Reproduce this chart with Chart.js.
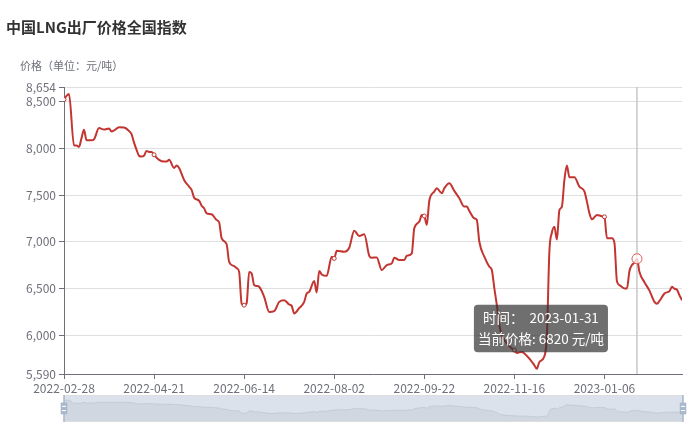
<!DOCTYPE html>
<html>
<head>
<meta charset="utf-8">
<script src="https://cdn.jsdelivr.net/npm/chart.js@4/dist/chart.umd.min.js"></script>
<style>
  body { margin: 0; background: #fff; }
  #wrap { position: relative; width: 691px; height: 446px; }
  #main { position: absolute; left: 0; top: 0; }
  #zoomBar { position: absolute; left: 54px; top: 394px; }
</style>
</head>
<body>
<div id="wrap">
  <canvas id="main" width="691" height="446"></canvas>
  <canvas id="zoomBar" width="637" height="29"></canvas>
</div>
<script>
// x axis: trading-day number, a date label every 36 trading days
var tickDates = ['2022-02-28', '2022-04-21', '2022-06-14', '2022-08-02', '2022-09-22', '2022-11-16', '2023-01-06'];
var tickEvery = 36;
var lastDay = 247;

var dayIndex = [
  0, 1, 2, 4, 5, 6, 7, 8, 9, 11, 12, 14, 16, 18, 19, 20, 22, 24, 26, 27,
  28, 29, 30, 31, 32, 33, 34, 35, 36, 38, 40, 41, 42, 44, 45, 46, 48, 50, 51, 52,
  54, 55, 56, 57, 59, 61, 62, 63, 65, 66, 68, 69, 70, 71, 72, 73, 74, 75, 76, 77,
  78, 80, 82, 84, 86, 88, 90, 91, 92, 94, 96, 97, 98, 100, 101, 102, 103, 105, 107, 108,
  109, 112, 114, 116, 118, 120, 122, 123, 125, 127, 129, 131, 132, 134, 136, 137, 139, 140, 142, 143,
  144, 145, 146, 148, 149, 151, 152, 154, 156, 158, 160, 161, 162, 164, 165, 166, 168, 170, 171, 172,
  173, 174, 175, 177, 179, 180, 181, 183, 184, 186, 188, 189, 190, 192, 193, 194, 195, 196, 197, 198,
  199, 200, 201, 202, 204, 206, 208, 209, 210, 211, 213, 215, 216, 217, 219, 220, 221, 222, 224, 225,
  226, 227, 228, 229, 230, 232, 234, 236, 237, 238, 240, 242, 243, 244, 245, 246, 247
];
var price = [
  8520, 8560, 8580, 8030, 8030, 8015, 8108, 8197, 8085, 8085, 8095, 8215, 8200, 8212, 8180, 8190, 8225, 8222, 8185, 8150,
  8060, 7983, 7919, 7912, 7922, 7972, 7960, 7960, 7930, 7876, 7858, 7858, 7876, 7790, 7815, 7790, 7662, 7590, 7555, 7473,
  7440, 7387, 7359, 7306, 7295, 7234, 7210, 7040, 6975, 6788, 6742, 6720, 6680, 6340, 6325, 6345, 6680, 6664, 6540, 6530,
  6521, 6414, 6253, 6261, 6360, 6378, 6332, 6317, 6236, 6293, 6360, 6450, 6467, 6582, 6461, 6689, 6653, 6638, 6842, 6824,
  6906, 6895, 6938, 7120, 7063, 7081, 6852, 6831, 6834, 6699, 6753, 6771, 6831, 6806, 6806, 6852, 6878, 7145, 7216, 7288,
  7277, 7181, 7440, 7537, 7573, 7520, 7573, 7627, 7545, 7466, 7377, 7377, 7331, 7252, 7234, 7002, 6842, 6735, 6699, 6504,
  6325, 6111, 6004, 5920, 5862, 5845, 5815, 5826, 5808, 5754, 5683, 5645, 5718, 5780, 6000, 6900, 7100, 7163, 7025, 7340,
  7377, 7662, 7815, 7690, 7690, 7590, 7540, 7430, 7306, 7242, 7288, 7275, 7268, 7040, 7040, 6990, 6580, 6540, 6504, 6504,
  6690, 6753, 6778, 6820, 6680, 6570, 6480, 6360, 6340, 6370, 6450, 6475, 6521, 6500, 6490, 6430, 6378
];
var yTicks = [5590, 6000, 6500, 7000, 7500, 8000, 8500, 8654];

// point shown in the tooltip
var hoverDay = 229;
var hoverDate = '2023-01-31';

var font = '"Noto Sans CJK SC", "Noto Sans", sans-serif';
var lineRed = '#c23531';
var axisGrey = '#6e7079';

var points = dayIndex.map(function (d, i) { return { x: d, y: price[i] }; });

var tooltipPlugin = Chart.registry.getPlugin('tooltip');
tooltipPlugin.positioners.belowLeft = function (items) {
  if (!items.length) return false;
  var el = items[0].element;
  return { x: el.x - 33, y: el.y + 46 };
};

var titles = {
  id: 'titles',
  afterDraw: function (chart) {
    var ctx = chart.ctx;
    ctx.save();
    ctx.textBaseline = 'middle';
    ctx.fillStyle = '#333';
    ctx.font = 'bold 15px ' + font;
    ctx.fillText('中国LNG出厂价格全国指数', 6, 27);
    ctx.fillStyle = '#6e7079';
    ctx.font = '11px ' + font;
    ctx.fillText('价格（单位：元/吨）', 20, 66);
    ctx.restore();
  }
};

var crosshair = {
  id: 'crosshair',
  beforeDatasetsDraw: function (chart) {
    var a = chart.chartArea;
    var x = chart.scales.x.getPixelForValue(hoverDay);
    var ctx = chart.ctx;
    ctx.save();
    ctx.strokeStyle = '#c8c8c8';
    ctx.lineWidth = 1.5;
    ctx.beginPath();
    ctx.moveTo(x, a.top);
    ctx.lineTo(x, a.bottom);
    ctx.stroke();
    ctx.restore();
  }
};

var chart1 = new Chart(document.getElementById('main'), {
  type: 'line',
  data: {
    datasets: [{
      label: '当前价格',
      data: points,
      borderColor: lineRed,
      borderWidth: 2,
      cubicInterpolationMode: 'monotone',
      pointRadius: function (c) { return c.raw && c.raw.x % tickEvery === 0 ? 2 : 0; },
      pointBackgroundColor: '#fff',
      pointBorderColor: lineRed,
      pointBorderWidth: 1,
      pointHoverRadius: 5,
      pointHoverBorderWidth: 1,
      pointHoverBackgroundColor: 'rgba(255,255,255,0.75)',
      pointHoverBorderColor: '#dd5a55'
    }]
  },
  options: {
    responsive: false,
    animation: false,
    events: [],
    layout: { padding: { top: 87, right: 9, bottom: 50, left: 0 } },
    scales: {
      x: {
        type: 'linear',
        min: 0,
        max: lastDay,
        afterFit: function (s) { s.height = 22; },
        afterBuildTicks: function (s) {
          s.ticks = tickDates.map(function (d, i) { return { value: i * tickEvery }; });
        },
        grid: { drawOnChartArea: false, tickLength: 5, tickColor: axisGrey },
        border: { color: axisGrey },
        ticks: {
          padding: 2,
          color: axisGrey,
          maxRotation: 0,
          autoSkip: false,
          font: { family: font, size: 12 },
          callback: function (v) { return tickDates[v / tickEvery]; }
        }
      },
      y: {
        min: 5590,
        max: 8654,
        afterFit: function (s) { s.width = 64; },
        afterBuildTicks: function (s) {
          s.ticks = yTicks.map(function (v) { return { value: v }; });
        },
        grid: { color: '#e0e0e0', tickLength: 5, tickColor: axisGrey },
        border: { color: axisGrey },
        ticks: {
          padding: 3,
          color: axisGrey,
          font: { family: font, size: 12 },
          callback: function (v) { return v.toLocaleString('en-US'); }
        }
      }
    },
    plugins: {
      legend: { display: false },
      tooltip: {
        position: 'belowLeft',
        xAlign: 'right',
        yAlign: 'top',
        caretSize: 0,
        caretPadding: 0,
        backgroundColor: 'rgba(50,50,50,0.7)',
        cornerRadius: 4,
        padding: { x: 4, y: 5 },
        displayColors: false,
        titleColor: '#fff',
        bodyColor: '#fff',
        titleAlign: 'center',
        bodyAlign: 'center',
        titleMarginBottom: 5,
        titleFont: { family: font, size: 13.5, weight: 'normal' },
        bodyFont: { family: font, size: 13.5 },
        callbacks: {
          title: function () { return '时间：  ' + hoverDate; },
          label: function (c) { return '当前价格: ' + c.parsed.y + ' 元/吨'; }
        }
      }
    }
  },
  plugins: [titles, crosshair]
});

var hoverAt = dayIndex.indexOf(hoverDay);
chart1.setActiveElements([{ datasetIndex: 0, index: hoverAt }]);
chart1.tooltip.setActiveElements([{ datasetIndex: 0, index: hoverAt }], { x: 0, y: 0 });
chart1.update();

// data zoom slider under the chart
function drawHandle(ctx, cx, top, h) {
  var k = h / 34.4;
  ctx.fillStyle = '#a7b7cc';
  ctx.fillRect(cx - 0.95 * k, top, 1.9 * k, h);
  var rw = 8.3 * k, rh = 14.9 * k, ry = top + (13.6 - 3.9) * k;
  ctx.fillRect(cx - rw / 2, ry, rw, rh);
  ctx.fillStyle = '#fff';
  ctx.fillRect(cx - 2.45 * k, top + (17.7 - 3.9) * k, 4.9 * k, 1.4 * k);
  ctx.fillRect(cx - 2.45 * k, top + (23.0 - 3.9) * k, 4.9 * k, 1.4 * k);
}

var slider = {
  id: 'slider',
  afterDatasetsDraw: function (chart) {
    var a = chart.chartArea;
    var ctx = chart.ctx;
    ctx.save();
    ctx.fillStyle = 'rgba(167,183,204,0.4)';
    ctx.fillRect(a.left, a.top, a.right - a.left, a.bottom - a.top);
    ctx.strokeStyle = '#ddd';
    ctx.lineWidth = 1;
    ctx.strokeRect(a.left + 0.5, a.top + 0.5, a.right - a.left - 1, a.bottom - a.top - 1);
    drawHandle(ctx, a.left, a.top, a.bottom - a.top);
    drawHandle(ctx, a.right, a.top, a.bottom - a.top);
    ctx.restore();
  }
};

var lo = Math.min.apply(null, price), hi = Math.max.apply(null, price);
var spare = (hi - lo) * 0.3;

var chart2 = new Chart(document.getElementById('zoomBar'), {
  type: 'line',
  data: {
    datasets: [{
      data: points,
      borderColor: 'rgba(47,69,84,0.3)',
      borderWidth: 0.5,
      backgroundColor: 'rgba(47,69,84,0.1)',
      fill: 'start',
      pointRadius: 0,
      cubicInterpolationMode: 'monotone'
    }]
  },
  options: {
    responsive: false,
    animation: false,
    events: [],
    layout: { padding: { left: 10, right: 8, top: 1, bottom: 1 } },
    scales: {
      x: { type: 'linear', display: false, min: 0, max: lastDay },
      y: { display: false, min: lo - spare, max: hi + spare }
    },
    plugins: { legend: { display: false }, tooltip: { enabled: false } }
  },
  plugins: [slider]
});
</script>
</body>
</html>
